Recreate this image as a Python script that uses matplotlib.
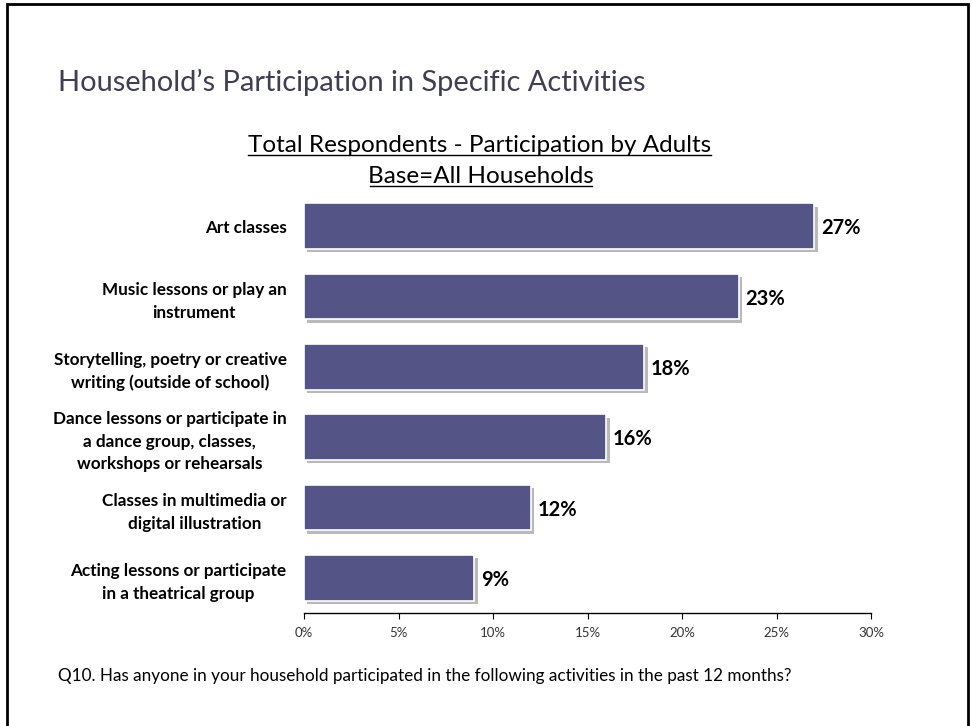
import matplotlib
matplotlib.use("Agg")
import matplotlib.pyplot as plt
import matplotlib.patheffects as pe
from matplotlib.patches import Rectangle

plt.rcParams['font.family'] = ['Lato', 'DejaVu Sans']

categories = [
    "Art classes",
    "Music lessons or play an\ninstrument",
    "Storytelling, poetry or creative\nwriting (outside of school)",
    "Dance lessons or participate in\na dance group, classes,\nworkshops or rehearsals",
    "Classes in multimedia or\ndigital illustration",
    "Acting lessons or participate\nin a theatrical group",
]
values = [27, 23, 18, 16, 12, 9]
xticks = [0, 5, 10, 15, 20, 25, 30]
xtick_labels = ["0%", "5%", "10%", "15%", "20%", "25%", "30%"]

title = "Household\u2019s Participation in Specific Activities"
subtitle1 = "Total Respondents - Participation by Adults"
subtitle2 = "Base=All Households"
footnote = "Q10. Has anyone in your household participated in the following activities in the past 12 months?"

W, H = 972, 726
fig = plt.figure(figsize=(W / 100, H / 100), dpi=100)
fig.patch.set_facecolor("white")

# slide frame
fig.patches.append(Rectangle((7 / W, -0.05), (968 - 7) / W, 1 - 4 / H + 0.05,
                             transform=fig.transFigure, fill=False,
                             edgecolor="black", linewidth=2))

ax = fig.add_axes([304 / W, 1 - 613 / H, (871 - 304) / W, (613 - 191) / H])

bar_color = "#545487"
ypos = list(range(len(values)))
bars = ax.barh(ypos, values, height=0.65, color=bar_color, edgecolor="white",
               linewidth=1.2, zorder=3)
for b in bars:
    b.set_path_effects([pe.SimplePatchShadow(offset=(2.5, -2.5), shadow_rgbFace="#a8a8a8", alpha=0.8),
                        pe.Normal()])

for y, v in zip(ypos, values):
    ax.text(v + 0.35, y + 0.03, f"{v}%", va="center", ha="left",
            fontsize=14.5, fontweight="bold", color="black")

ax.set_ylim(len(values) - 0.5, -0.5)
ax.set_xlim(0, 30)
ax.set_xticks(xticks)
ax.set_xticklabels(xtick_labels, fontsize=9.5, color="#333333")
ax.set_yticks(ypos)
ax.set_yticklabels(categories, fontsize=12.3, fontweight="bold", ha="right",
                   multialignment="center", linespacing=1.5)
ax.tick_params(axis="y", length=0, pad=12.5)
ax.tick_params(axis="x", length=4, direction="out", color="black", pad=6)
for s in ["top", "right", "left"]:
    ax.spines[s].set_visible(False)
ax.spines["bottom"].set_color("black")
ax.spines["bottom"].set_linewidth(1)

fig.text(58 / W, 1 - 82 / H, title, fontsize=20.9, color="#3f3f52", va="center", ha="left")
fig.text(480 / W, 1 - 152 / H, subtitle1, fontsize=17.5, color="black", va="baseline",
         ha="center")
fig.text(481 / W, 1 - 183 / H, subtitle2, fontsize=17.5, color="black", va="baseline", ha="center")
# underlines
fig.add_artist(plt.Line2D([248 / W, 711 / W], [1 - 154.5 / H] * 2, color="black", linewidth=1))
fig.add_artist(plt.Line2D([370 / W, 592 / W], [1 - 186 / H] * 2, color="black", linewidth=1))

fig.text(58 / W, 1 - 676 / H, footnote, fontsize=12.3, color="black", va="center", ha="left")

fig.savefig("out.png", dpi=100)
